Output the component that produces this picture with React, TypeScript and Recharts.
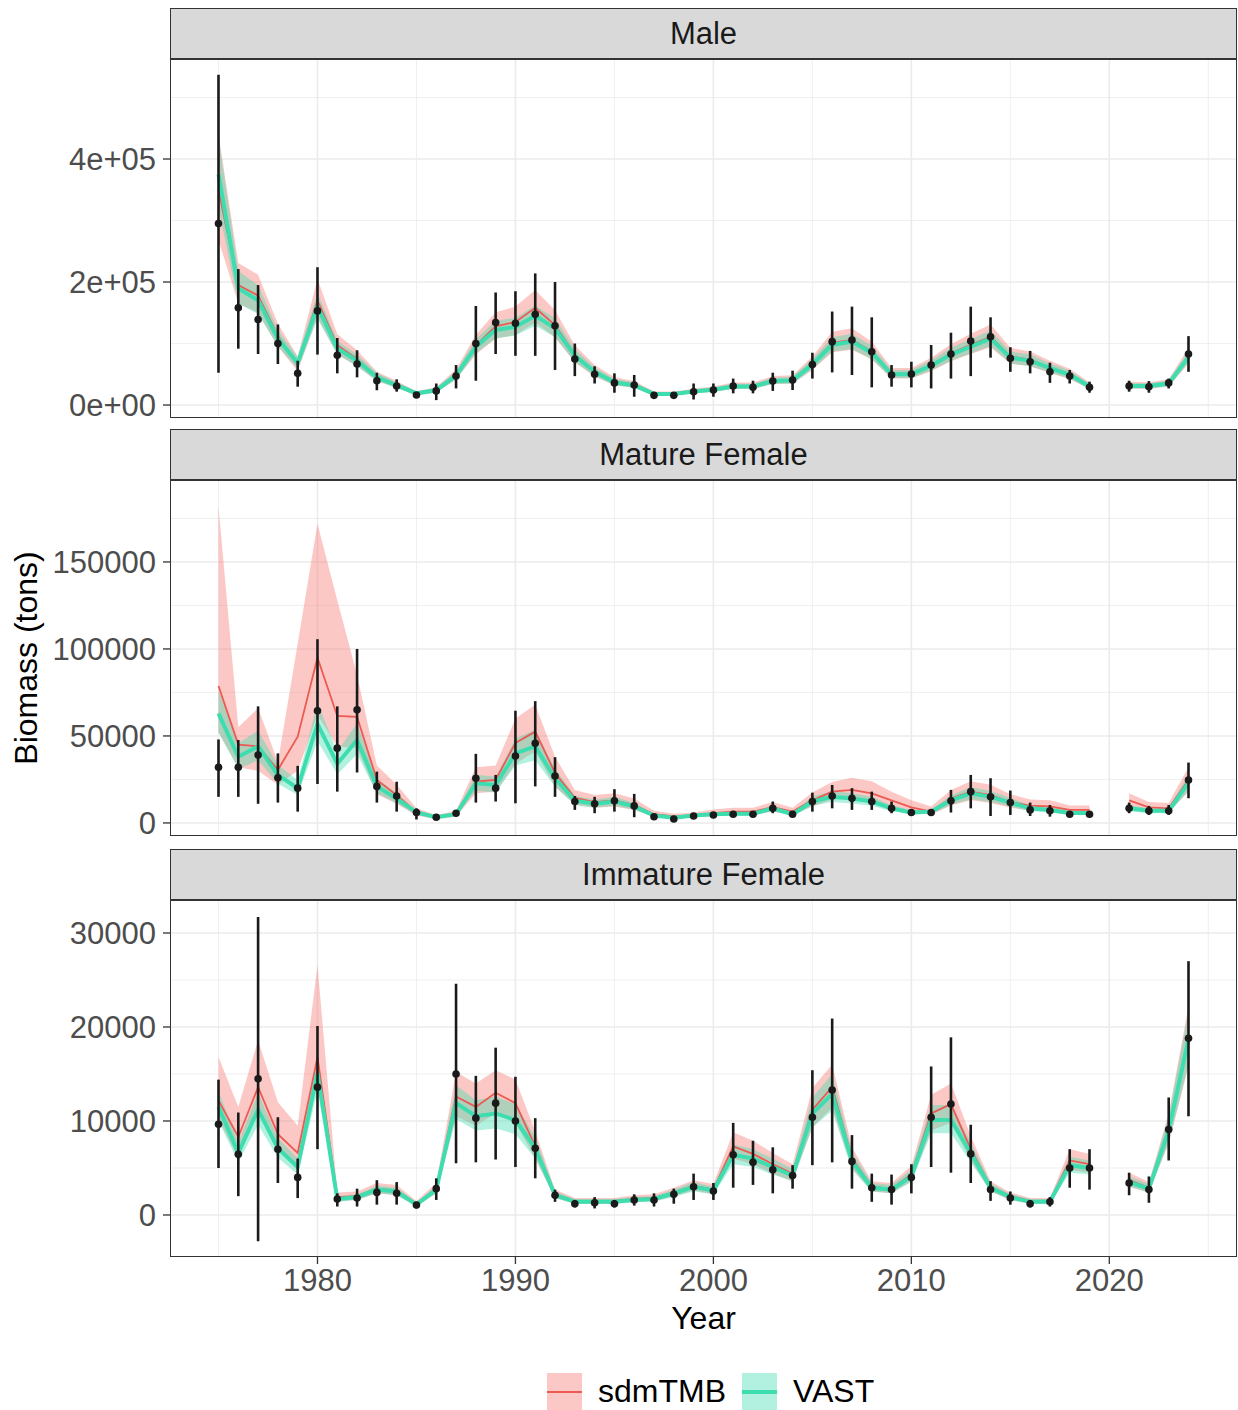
import React from 'react';
import {
  ComposedChart,
  Area,
  Line,
  Scatter,
  ErrorBar,
  XAxis,
  YAxis,
  CartesianGrid,
} from 'recharts';

// survey years (2020 had no survey)
const years = [
  1975, 1976, 1977, 1978, 1979, 1980, 1981, 1982, 1983, 1984,
  1985, 1986, 1987, 1988, 1989, 1990, 1991, 1992, 1993, 1994,
  1995, 1996, 1997, 1998, 1999, 2000, 2001, 2002, 2003, 2004,
  2005, 2006, 2007, 2008, 2009, 2010, 2011, 2012, 2013, 2014,
  2015, 2016, 2017, 2018, 2019, 2020, 2021, 2022, 2023, 2024,
];

// ---- Male ----
const maleObs = [
  295000, 158000, 139000, 100000, 51500, 153000, 81000, 66700, 39500, 30900,
  16300, 23000, 47000, 100000, 134000, 133000, 147500, 129000, 74800, 50000,
  36000, 32500, 15700, 15700, 21700, 24400, 30900, 28700, 39000, 40600,
  66000, 103000, 105700, 86700, 48800, 50400, 65000, 83000, 104000, 111000,
  76000, 70400, 54000, 47000, 28700, null, 30900, 29800, 36000, 83000,
];
const maleObsLo = [
  52500, 91600, 83000, 66700, 29800, 82000, 51500, 45000, 24000, 21700,
  12000, 8000, 27000, 39500, 83000, 80000, 80000, 57000, 47000, 35000,
  20000, 13500, 12000, 12000, 9000, 13500, 19000, 19000, 23000, 24400,
  43000, 53000, 48800, 28700, 29800, 28700, 27000, 43000, 47000, 77000,
  54000, 51500, 36000, 35000, 20000, null, 21700, 20000, 27000, 54000,
];
const maleObsHi = [
  537000, 221000, 195000, 131000, 72000, 224000, 109000, 89000, 52500, 41800,
  20000, 35000, 65000, 161000, 183000, 185000, 214000, 200000, 100000, 63000,
  51500, 48800, 19500, 19500, 35000, 35000, 43000, 39500, 52500, 55800,
  85000, 152000, 160000, 142600, 65000, 70400, 97600, 117600, 160000, 142600,
  94000, 88000, 68800, 57000, 38000, null, 39500, 39000, 43000, 112000,
];
const maleSdm = [
  350000, 195000, 178000, 112000, 66000, 170000, 97000, 75000, 46000, 33000,
  19000, 24500, 49000, 97000, 128000, 135000, 158000, 130000, 82000, 55000,
  38000, 33000, 18500, 18500, 22500, 25500, 31000, 31000, 40000, 41000,
  67000, 101000, 106000, 87000, 51000, 51000, 65000, 84000, 98000, 111000,
  79000, 74000, 61000, 50000, 31000, null, 32000, 31500, 35500, 79000,
];
const maleSdmLo = [
  268000, 165000, 150000, 95000, 55000, 143000, 82000, 63000, 39000, 28000,
  16000, 20500, 41500, 82000, 108000, 114000, 134000, 110000, 69000, 46500,
  32000, 28000, 15500, 15500, 19000, 21500, 26000, 26000, 34000, 34500,
  57000, 86000, 90000, 74000, 43000, 43000, 55000, 71000, 83000, 94000,
  67000, 63000, 52000, 42000, 26000, null, 27000, 26500, 30000, 67000,
];
const maleSdmHi = [
  440000, 231000, 212000, 132000, 79000, 205000, 115000, 89000, 54000, 39000,
  22500, 29000, 58000, 114000, 151000, 160000, 187000, 154000, 97000, 65000,
  45000, 39000, 22000, 22000, 26500, 30000, 36500, 36500, 47000, 48500,
  79000, 119000, 125000, 103000, 60000, 60000, 77000, 99000, 116000, 131000,
  93000, 87000, 72000, 59000, 36500, null, 38000, 37000, 42000, 93000,
];
const maleVast = [
  375000, 190000, 170000, 108000, 68000, 160000, 92000, 72000, 45000, 32000,
  19000, 24000, 48000, 95000, 122000, 127000, 145000, 125000, 80000, 54000,
  37000, 32000, 18000, 18000, 22000, 25000, 30000, 30000, 39000, 40000,
  66000, 98000, 103000, 85000, 50000, 50000, 64000, 82000, 95000, 108000,
  77000, 72000, 60000, 49000, 30000, null, 31000, 31000, 35000, 78000,
];
const maleVastLo = [
  320000, 165000, 148000, 95000, 59000, 140000, 82000, 63000, 39000, 27500,
  16000, 20500, 42000, 84000, 108000, 113000, 129000, 110000, 70000, 47000,
  32000, 27500, 15500, 15500, 19000, 21500, 26000, 26000, 34000, 35000,
  58000, 87000, 91000, 75000, 44000, 44000, 56000, 72000, 84000, 96000,
  68000, 63000, 53000, 43000, 26000, null, 27000, 27000, 30500, 69000,
];
const maleVastHi = [
  435000, 218000, 195000, 122000, 78000, 182000, 104000, 82000, 52000, 37000,
  22500, 28000, 55000, 107000, 137000, 142000, 162000, 141000, 91000, 61000,
  42500, 37000, 21000, 21000, 25500, 29000, 34500, 34500, 44500, 46000,
  75000, 110000, 116000, 96000, 57000, 57000, 73000, 93000, 107000, 121000,
  87000, 82000, 68000, 56000, 35000, null, 35500, 35500, 40000, 88000,
];

// ---- Mature female ----
const matureObs = [
  32000, 32000, 39000, 26000, 20000, 64500, 43000, 65000, 21000, 15500,
  6000, 3300, 5600, 25700, 20000, 38500, 45800, 27000, 12300, 11000,
  12800, 9800, 3600, 2300, 4000, 4600, 5000, 5000, 8400, 5000,
  12300, 15500, 14200, 12300, 8400, 6000, 6000, 12800, 18000, 15000,
  11700, 7500, 7000, 5000, 5000, null, 8400, 7000, 7000, 24700,
];
const matureObsLo = [
  15000, 15000, 11000, 11700, 6500, 22400, 18000, 29000, 11700, 6500,
  2000, 2000, 4000, 11700, 12300, 11300, 21000, 15000, 7500, 5600,
  6500, 3300, 2500, 1500, 2800, 3500, 3800, 3800, 5600, 3800,
  6500, 8400, 7500, 7500, 5600, 4500, 4500, 6000, 8400, 4000,
  4600, 4000, 3600, 3800, 3800, null, 5600, 4600, 4600, 14200,
];
const matureObsHi = [
  48000, 47700, 67000, 40000, 32800, 105600, 67000, 100000, 29500, 23700,
  8400, 4600, 7200, 39700, 27600, 64500, 70000, 37800, 15500, 15000,
  19400, 16700, 4800, 3100, 5300, 5800, 6300, 6300, 12300, 6300,
  17400, 21800, 20000, 18000, 12300, 7500, 7500, 19000, 27600, 25700,
  18600, 11700, 10300, 6300, 6300, null, 11700, 9800, 10300, 34700,
];
const matureSdm = [
  78700, 45000, 44000, 30500, 49600, 95000, 61500, 61000, 24700, 16000,
  6000, 3300, 5000, 23700, 24700, 46000, 52500, 28700, 14400, 12000,
  13000, 10300, 5000, 3800, 4300, 5700, 6500, 6500, 9000, 6500,
  13000, 18000, 19000, 17000, 13000, 9000, 6500, 14000, 18000, 16000,
  12000, 10000, 9500, 7500, 7500, null, 13000, 9000, 8400, 24700,
];
const matureSdmLo = [
  52000, 32000, 30000, 22000, 30000, 62000, 44000, 43000, 16500, 11000,
  4200, 2300, 3500, 17000, 18000, 34000, 41000, 21000, 10500, 8700,
  9500, 7500, 3600, 2700, 3100, 4100, 4700, 4700, 6500, 4700,
  9500, 13500, 14000, 12500, 9500, 6500, 4700, 10000, 13000, 11500,
  8700, 7200, 6800, 5400, 5400, null, 9500, 6500, 6100, 18000,
];
const matureSdmHi = [
  182000, 55000, 66000, 35000, 103000, 172000, 128000, 85000, 33000, 22000,
  8500, 4600, 7000, 32000, 33000, 60000, 68000, 38000, 19000, 16000,
  17000, 14000, 7000, 5300, 6000, 7800, 8800, 8800, 12000, 8800,
  17500, 23500, 26000, 24000, 18000, 13000, 9500, 19000, 24000, 22000,
  16500, 13500, 13000, 10000, 10000, null, 17000, 12000, 11500, 32000,
];
const matureVast = [
  63000, 38000, 44000, 27600, 20000, 57000, 34000, 47700, 21000, 14000,
  6000, 3300, 5000, 22800, 21800, 40000, 44000, 25700, 12800, 11000,
  12300, 9500, 4300, 3000, 4300, 5000, 5300, 5300, 8400, 5000,
  12300, 15000, 14000, 12300, 8400, 6000, 6500, 13000, 17000, 15000,
  11700, 8400, 7500, 5700, 5700, null, 8400, 7000, 7000, 23000,
];
const matureVastLo = [
  52000, 31000, 36000, 22500, 16000, 47000, 28000, 39500, 17000, 11300,
  4800, 2600, 4000, 18500, 17500, 33000, 36000, 21000, 10300, 8800,
  9900, 7600, 3400, 2400, 3400, 4000, 4200, 4200, 6700, 4000,
  9900, 12000, 11200, 9900, 6700, 4800, 5200, 10400, 13600, 12000,
  9400, 6700, 6000, 4600, 4600, null, 6700, 5600, 5600, 18500,
];
const matureVastHi = [
  76000, 46000, 53000, 33500, 24500, 69000, 41000, 57500, 25500, 17000,
  7300, 4100, 6100, 27700, 26500, 48500, 53500, 31200, 15600, 13400,
  15000, 11600, 5300, 3700, 5300, 6100, 6500, 6500, 10200, 6100,
  15000, 18300, 17100, 15000, 10200, 7300, 7900, 15800, 20700, 18300,
  14300, 10200, 9200, 7000, 7000, null, 10200, 8500, 8500, 28000,
];

// ---- Immature female ----
const immatureObs = [
  9650, 6450, 14500, 7000, 4000, 13600, 1700, 1800, 2400, 2300,
  1060, 2800, 15000, 10300, 11900, 10000, 7100, 2100, 1200, 1300,
  1200, 1600, 1600, 2200, 3000, 2550, 6400, 5600, 4800, 4200,
  10400, 13300, 5700, 2900, 2700, 4000, 10400, 11800, 6500, 2700,
  1800, 1200, 1400, 5000, 5000, null, 3400, 2700, 9100, 18800,
];
const immatureObsLo = [
  5000, 2000, -2800, 3400, 1800, 7000, 900, 900, 1100, 1100,
  700, 1600, 5500, 5600, 5900, 5100, 3900, 1400, 800, 700,
  800, 1000, 900, 1200, 1600, 1600, 2900, 3200, 2300, 2800,
  5300, 5600, 2800, 1400, 1100, 2300, 5100, 4500, 3400, 1500,
  1100, 800, 900, 2900, 2700, null, 2100, 1300, 5800, 10500,
];
const immatureObsHi = [
  14400, 10900, 31700, 10400, 6000, 20100, 2300, 2800, 3700, 3500,
  1400, 3900, 24600, 14800, 17800, 14700, 10300, 2700, 1600, 1900,
  1600, 2200, 2300, 2800, 4400, 3400, 9800, 7900, 7200, 5300,
  15400, 20900, 8500, 4400, 4300, 5400, 15800, 18900, 9600, 3600,
  2500, 1600, 1900, 7000, 7000, null, 4500, 4100, 12500, 27000,
];
const immatureSdm = [
  12200, 8300, 13600, 8600, 6600, 16800, 1900, 2000, 2800, 2600,
  1200, 2800, 12600, 11500, 13000, 11900, 7300, 2200, 1500, 1500,
  1500, 1700, 1800, 2400, 3100, 2700, 7300, 6500, 5400, 4400,
  11200, 13600, 6000, 3000, 2800, 4300, 10800, 11800, 7000, 3000,
  2000, 1500, 1500, 5800, 5400, null, 3700, 2900, 9000, 18800,
];
const immatureSdmLo = [
  10200, 6000, 11200, 7000, 5300, 14000, 1500, 1600, 2300, 2100,
  950, 2300, 10500, 9500, 10800, 9800, 6000, 1800, 1200, 1200,
  1200, 1400, 1500, 2000, 2600, 2200, 6000, 5400, 4400, 3600,
  9300, 11400, 5000, 2500, 2300, 3600, 9000, 9800, 5800, 2500,
  1600, 1200, 1200, 4800, 4500, null, 3000, 2400, 7600, 15800,
];
const immatureSdmHi = [
  16800, 11500, 18600, 12000, 9500, 26600, 2400, 2500, 3400, 3200,
  1500, 3400, 15200, 14000, 15400, 14400, 8900, 2700, 1800, 1800,
  1800, 2100, 2200, 2900, 3700, 3300, 8800, 7900, 6600, 5400,
  13500, 16000, 7200, 3600, 3400, 5200, 12800, 14000, 8400, 3600,
  2400, 1800, 1800, 7000, 6500, null, 4500, 3500, 10800, 22200,
];
const immatureVast = [
  11500, 6600, 11200, 7100, 5100, 15100, 1700, 1900, 2700, 2500,
  1100, 2700, 11900, 10500, 10800, 10100, 7100, 2100, 1400, 1400,
  1400, 1600, 1700, 2300, 3000, 2600, 6400, 6000, 5100, 4200,
  10800, 12900, 5700, 2900, 2700, 4100, 10100, 10100, 6600, 2900,
  1900, 1400, 1400, 5300, 5000, null, 3500, 2800, 9000, 18700,
];
const immatureVastLo = [
  10000, 5600, 9600, 6100, 4300, 13200, 1400, 1600, 2300, 2100,
  900, 2300, 10200, 9000, 9200, 8600, 6000, 1800, 1200, 1200,
  1200, 1400, 1400, 1900, 2500, 2200, 5400, 5100, 4300, 3600,
  9300, 11100, 4800, 2500, 2300, 3500, 8700, 8700, 5600, 2500,
  1600, 1200, 1200, 4500, 4300, null, 3000, 2400, 7700, 16000,
];
const immatureVastHi = [
  13200, 7700, 13000, 8200, 6000, 17200, 2000, 2200, 3100, 2900,
  1300, 3100, 13800, 12200, 12600, 11800, 8300, 2500, 1700, 1700,
  1700, 1900, 2000, 2700, 3500, 3000, 7500, 7000, 6000, 4900,
  12500, 15000, 6700, 3400, 3200, 4800, 11700, 11700, 7700, 3400,
  2200, 1700, 1700, 6200, 5800, null, 4100, 3300, 10500, 21700,
];

const yearTicks = [1980, 1990, 2000, 2010, 2020];
const yearMinor = [1975, 1985, 1995, 2005, 2015, 2025];

const FONT = '"Liberation Sans", Arial, Helvetica, sans-serif';
const SDM_FILL = '#F8766D';
const SDM_LINE = '#EC5A52';
const VAST_FILL = '#3EDDB0';
const VAST_LINE = '#3EDDB0';
const GRID = '#ebebeb';
const X_DOMAIN: [number, number] = [1972.55, 2026.45];
const PLOT_LEFT = 170;
const PLOT_WIDTH = 1067;
const PAD = 16; // room under the plot so the lowest tick label is not clipped

type Num = number | null;

function buildRows(
  obs: Num[], obsLo: Num[], obsHi: Num[],
  sdm: Num[], sdmLo: Num[], sdmHi: Num[],
  vast: Num[], vastLo: Num[], vastHi: Num[],
) {
  return years.map((year, i) => ({
    year,
    obs: obs[i],
    obsErr: obs[i] == null ? null : [(obs[i] as number) - (obsLo[i] as number), (obsHi[i] as number) - (obs[i] as number)],
    sdm: sdm[i],
    sdmBand: sdm[i] == null ? null : [sdmLo[i], sdmHi[i]],
    vast: vast[i],
    vastBand: vast[i] == null ? null : [vastLo[i], vastHi[i]],
  }));
}

const maleRows = buildRows(maleObs, maleObsLo, maleObsHi, maleSdm, maleSdmLo, maleSdmHi, maleVast, maleVastLo, maleVastHi);
const matureRows = buildRows(matureObs, matureObsLo, matureObsHi, matureSdm, matureSdmLo, matureSdmHi, matureVast, matureVastLo, matureVastHi);
const immatureRows = buildRows(immatureObs, immatureObsLo, immatureObsHi, immatureSdm, immatureSdmLo, immatureSdmHi, immatureVast, immatureVastLo, immatureVastHi);

const sci = (v: number) => (v === 0 ? '0e+00' : `${v / 100000}e+05`);

const panels = [
  {
    title: 'Male', stripTop: 8, top: 59, bottom: 418, rows: maleRows,
    domain: [-21100, 562600], ticks: [0, 200000, 400000], minor: [100000, 300000, 500000], format: sci,
  },
  {
    title: 'Mature Female', stripTop: 429, top: 480, bottom: 836, rows: matureRows,
    domain: [-7500, 197100], ticks: [0, 50000, 100000, 150000], minor: [25000, 75000, 125000, 175000],
    format: (v: number) => String(v),
  },
  {
    title: 'Immature Female', stripTop: 849, top: 900, bottom: 1257, rows: immatureRows,
    domain: [-4470, 33510], ticks: [0, 10000, 20000, 30000], minor: [5000, 15000, 25000],
    format: (v: number) => String(v),
  },
];

const dot = (p: any) => <circle cx={p.cx} cy={p.cy} r={3.8} fill="#1a1a1a" />;

function Facet({ panel, showX }: { panel: (typeof panels)[number]; showX: boolean }) {
  const plotH = panel.bottom - panel.top;
  const axisH = showX ? 50 : 0;
  const pad = showX ? 0 : PAD;
  const obsRows = panel.rows.filter((r) => r.obs != null);
  return (
    <>
      <div
        style={{
          position: 'absolute', left: PLOT_LEFT, top: panel.stripTop, width: PLOT_WIDTH,
          height: panel.top - panel.stripTop, boxSizing: 'border-box', background: '#d9d9d9',
          border: '1.3px solid #333', display: 'flex', alignItems: 'center', justifyContent: 'center',
          fontSize: 31, color: '#1a1a1a',
        }}
      >
        {panel.title}
      </div>
      <div style={{ position: 'absolute', left: 0, top: panel.top }}>
        <ComposedChart
          width={1238}
          height={plotH + axisH + pad}
          data={panel.rows}
          margin={{ top: 0, right: 1, bottom: pad, left: 0 }}
        >
          <CartesianGrid
            stroke={GRID}
            strokeWidth={0.8}
            verticalValues={yearMinor}
            horizontalValues={panel.minor}
          />
          <CartesianGrid
            stroke={GRID}
            strokeWidth={1.6}
            verticalValues={yearTicks}
            horizontalValues={panel.ticks}
          />
          <XAxis
            dataKey="year"
            type="number"
            domain={X_DOMAIN}
            ticks={yearTicks}
            allowDataOverflow
            hide={!showX}
            height={axisH}
            axisLine={false}
            tickSize={7}
            tickMargin={5}
            tickLine={{ stroke: '#333', strokeWidth: 1.3 }}
            tick={{ fill: '#4d4d4d', fontSize: 31, fontFamily: FONT }}
            interval={0}
          />
          <YAxis
            type="number"
            domain={panel.domain}
            ticks={panel.ticks}
            allowDataOverflow
            width={PLOT_LEFT}
            axisLine={false}
            tickSize={7}
            tickMargin={7}
            tickLine={{ stroke: '#333', strokeWidth: 1.3 }}
            tick={{ fill: '#4d4d4d', fontSize: 31, fontFamily: FONT }}
            tickFormatter={panel.format}
            interval={0}
          />
          <Area
            type="linear"
            dataKey="sdmBand"
            stroke="none"
            fill={SDM_FILL}
            fillOpacity={0.4}
            isAnimationActive={false}
          />
          <Area
            type="linear"
            dataKey="vastBand"
            stroke="none"
            fill={VAST_FILL}
            fillOpacity={0.4}
            isAnimationActive={false}
          />
          <Line
            type="linear"
            dataKey="sdm"
            stroke={SDM_LINE}
            strokeWidth={1.8}
            dot={false}
            isAnimationActive={false}
          />
          <Line
            type="linear"
            dataKey="vast"
            stroke={VAST_LINE}
            strokeWidth={4}
            dot={false}
            isAnimationActive={false}
          />
          <Scatter data={obsRows} dataKey="obs" shape={dot} isAnimationActive={false}>
            <ErrorBar dataKey="obsErr" direction="y" width={0} stroke="#1a1a1a" strokeWidth={2.6} />
          </Scatter>
        </ComposedChart>
      </div>
      <div
        style={{
          position: 'absolute', left: PLOT_LEFT, top: panel.top, width: PLOT_WIDTH, height: plotH,
          boxSizing: 'border-box', border: '1.3px solid #333', pointerEvents: 'none',
        }}
      />
    </>
  );
}

export default function App() {
  return (
    <div
      style={{
        position: 'absolute', left: 0, top: 0, width: 1238, height: 1410,
        background: '#fff', fontFamily: FONT, overflow: 'hidden',
      }}
    >
      {panels.map((p, i) => (
        <Facet key={p.title} panel={p} showX={i === panels.length - 1} />
      ))}
      <svg
        width={1238}
        height={1410}
        style={{ position: 'absolute', left: 0, top: 0, pointerEvents: 'none' }}
        fontFamily={FONT}
      >
        <text x={37} y={658} transform="rotate(-90 37 658)" textAnchor="middle" fontSize={32} fill="#000">
          Biomass (tons)
        </text>
        <text x={703.5} y={1329} textAnchor="middle" fontSize={32} fill="#000">
          Year
        </text>
        {/* legend */}
        <rect x={547} y={1373} width={35} height={40} fill={SDM_FILL} fillOpacity={0.4} />
        <line x1={547} x2={582} y1={1392} y2={1392} stroke={SDM_LINE} strokeWidth={1.8} />
        <text x={598} y={1402} fontSize={32} fill="#000">sdmTMB</text>
        <rect x={742} y={1373} width={35} height={40} fill={VAST_FILL} fillOpacity={0.4} />
        <line x1={742} x2={777} y1={1392} y2={1392} stroke={VAST_LINE} strokeWidth={4} />
        <text x={793} y={1402} fontSize={32} fill="#000">VAST</text>
      </svg>
    </div>
  );
}
